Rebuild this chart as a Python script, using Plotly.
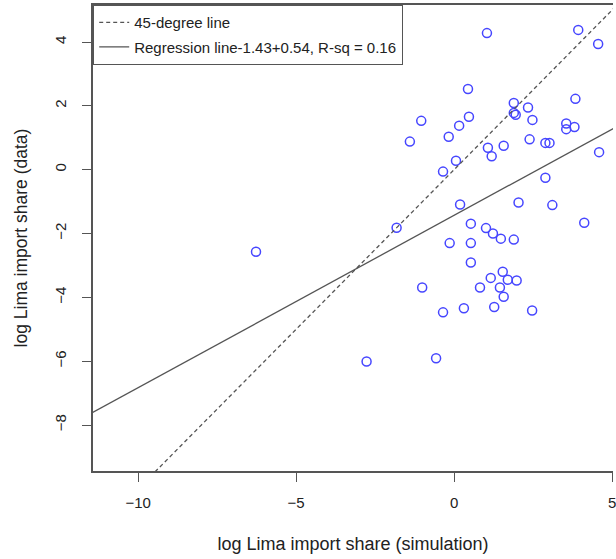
import plotly.graph_objects as go

# ---- data ----
sim_x = [1.04, 3.93, 4.56, 0.44, -1.04, -1.40, -0.17, 0.16, 0.47, 1.07,
         1.19, 1.57, 1.89, 1.89, 1.95, 2.34, 2.48, 2.39, 2.89, 3.02,
         3.84, 3.55, 3.55, 3.81, 4.59, 0.06, -0.35, 2.89, 2.04, 3.11,
         4.12, 0.19, 0.53, 1.01, 1.23, 1.48, 1.89, -0.14, 0.53, 0.53,
         1.54, 1.16, 1.70, 1.98, -1.01, 0.82, 1.45, 1.57, 0.31, 1.27,
         2.47, -0.35, -0.57, -6.27, -1.82, -2.77]
data_y = [4.28, 4.38, 3.94, 2.53, 1.53, 0.88, 1.03, 1.38, 1.66, 0.69,
          0.42, 0.75, 2.09, 1.78, 1.72, 1.95, 1.56, 0.95, 0.84, 0.84,
          2.22, 1.45, 1.27, 1.34, 0.55, 0.28, -0.06, -0.25, -1.03, -1.11,
          -1.66, -1.09, -1.69, -1.83, -2.00, -2.16, -2.19, -2.30, -2.30, -2.91,
          -3.20, -3.39, -3.45, -3.47, -3.69, -3.69, -3.69, -3.98, -4.34, -4.30,
          -4.41, -4.47, -5.91, -2.57, -1.82, -6.01]

reg_intercept = -1.43
reg_slope = 0.54
r_sq = 0.16

x_ticks = [-10, -5, 0, 5]
y_ticks = [-8, -6, -4, -2, 0, 2, 4]

x_range = [-11.43, 5.03]
y_range = [-9.44, 5.16]

# ---- figure ----
line_x = [x_range[0] - 1, x_range[1] + 1]
diag_y = list(line_x)
reg_y = [reg_intercept + reg_slope * v for v in line_x]

FONT = "Liberation Sans, Arial, sans-serif"
GRAY = "#555555"

fig = go.Figure()
fig.add_trace(go.Scatter(
    x=sim_x, y=data_y, mode="markers", showlegend=False,
    marker=dict(symbol="circle-open", size=9, color="rgb(70,70,255)",
                line=dict(width=1.5, color="rgb(70,70,255)")),
    cliponaxis=True,
))
fig.add_trace(go.Scatter(
    x=line_x, y=diag_y, mode="lines", name="45-degree line",
    legendgroup="a",
    line=dict(color=GRAY, width=1.3, dash="4px,3px"),
))
fig.add_trace(go.Scatter(
    x=line_x, y=reg_y, mode="lines",
    name=f"Regression line{reg_intercept}+{reg_slope}, R-sq = {r_sq}",
    legendgroup="b",
    line=dict(color=GRAY, width=1.3),
))

axis_common = dict(
    showgrid=False, zeroline=False, showline=True,
    linecolor=GRAY, linewidth=1.5,
    ticks="outside", ticklen=9, tickwidth=1.2, tickcolor=GRAY,
    tickfont=dict(family=FONT, size=15, color="#222222"),
    ticklabeloverflow="allow",
)

fig.update_layout(
    width=616, height=559,
    margin=dict(l=93, r=0, t=5, b=88),
    paper_bgcolor="white", plot_bgcolor="white",
    font=dict(family=FONT, size=15, color="#222222"),
    xaxis=dict(range=x_range, tickvals=x_ticks, mirror=True, **axis_common,
               ticklabelstandoff=8,
               title=dict(text="log Lima import share (simulation)",
                          font=dict(family=FONT, size=18), standoff=28)),
    yaxis=dict(range=y_range, tickvals=y_ticks, tickangle=-90, mirror=False,
               ticklabelstandoff=10, **axis_common,
               title=dict(text="log Lima import share (data)",
                          font=dict(family=FONT, size=17.5), standoff=20)),
    legend=dict(x=0, y=1, xanchor="left", yanchor="top",
                bgcolor="white", bordercolor=GRAY, borderwidth=1.2,
                font=dict(family=FONT, size=15, color="#222222"),
                tracegroupgap=2, itemwidth=30),
    showlegend=True,
)

fig.write_html("out.html")
